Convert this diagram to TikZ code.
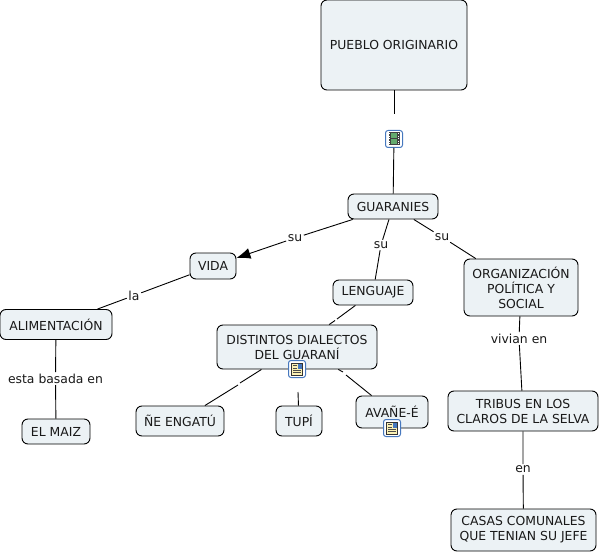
\documentclass[tikz,border=0pt]{standalone}
\usepackage{fontspec}
\setmainfont{DejaVu Sans}
\usetikzlibrary{arrows.meta}
\usetikzlibrary{calc}
\definecolor{boxfill}{RGB}{236,242,245}
\definecolor{inktext}{RGB}{25,25,25}
\definecolor{iconblue}{RGB}{70,120,190}
\definecolor{filmgreen}{RGB}{100,170,110}
\definecolor{notecream}{RGB}{250,240,180}
\tikzset{
  concept/.style={draw=black, fill=boxfill, text=inktext, rounded corners=6pt, line width=0.9pt, align=center, font=\fontsize{12.4}{15}\selectfont, inner sep=0pt},
  linkword/.style={fill=white, text=inktext, inner sep=1.5pt, font=\fontsize{12.4}{14}\selectfont},
  link/.style={line width=0.9pt},
  iconbox/.style={draw=iconblue, fill=white, rounded corners=2.5pt, line width=1pt, minimum size=17pt, inner sep=0pt}
}
\newcommand{\filmicon}[1]{%
  \fill[black!75] ($(#1)+(-5.5,-6.5)$) rectangle ($(#1)+(5.5,6.5)$);
  \fill[filmgreen] ($(#1)+(-3,-5.5)$) rectangle ($(#1)+(3,-0.5)$);
  \fill[filmgreen] ($(#1)+(-3,0.5)$) rectangle ($(#1)+(3,5.5)$);
  \foreach \yy in {-5,-2.5,0,2.5,5} {
    \fill[white] ($(#1)+(-4.8,\yy-0.5)$) rectangle ($(#1)+(-3.8,\yy+0.5)$);
    \fill[white] ($(#1)+(3.8,\yy-0.5)$) rectangle ($(#1)+(4.8,\yy+0.5)$);
  }
}
\newcommand{\noteicon}[1]{%
  \draw[black!80, fill=notecream, line width=0.6pt] ($(#1)+(-5.5,-6)$) rectangle ($(#1)+(5.5,6)$);
  \fill[black!70] ($(#1)+(-4,-4)$) rectangle ($(#1)+(-0.5,-3)$);
  \fill[black!70] ($(#1)+(-4,-1.5)$) rectangle ($(#1)+(-0.5,-0.5)$);
  \fill[black!70] ($(#1)+(-4,1)$) rectangle ($(#1)+(4,2)$);
  \fill[black!70] ($(#1)+(-4,3.2)$) rectangle ($(#1)+(4,4.2)$);
  \fill[iconblue] ($(#1)+(0.5,-5)$) rectangle ($(#1)+(4.5,-0.5)$);
}

\begin{document}
\begin{tikzpicture}[x=1pt,y=-1pt]
\useasboundingbox (0,0) rectangle (599,553);

%---------------------------------------
% Concepts
%---------------------------------------
\node[concept, minimum width=146pt, minimum height=90pt] (pueblo) at (394,45) {PUEBLO ORIGINARIO};
\node[concept, minimum width=90pt, minimum height=25pt] (guaranies) at (393,206.5) {GUARANIES};
\node[concept, minimum width=46pt, minimum height=26pt] (vida) at (213,266) {VIDA};
\node[concept, minimum width=80pt, minimum height=25pt] (lenguaje) at (373,292.5) {LENGUAJE};
\node[concept, minimum width=114pt, minimum height=57pt] (organizacion) at (521,287.5) {ORGANIZACIÓN\\POLÍTICA Y\\SOCIAL};
\node[concept, minimum width=112pt, minimum height=30pt] (alimentacion) at (56,324.5) {ALIMENTACIÓN};
\node[concept, minimum width=160pt, minimum height=44pt] (dialectos) at (297,347) {DISTINTOS DIALECTOS\\DEL GUARANÍ};
\node[concept, minimum width=68pt, minimum height=25pt] (maiz) at (56,431.5) {EL MAIZ};
\node[concept, minimum width=88pt, minimum height=30pt] (engatu) at (180,421) {ÑE ENGATÚ};
\node[concept, minimum width=46pt, minimum height=30pt] (tupi) at (299,421) {TUPÍ};
\node[concept, minimum width=72pt, minimum height=32pt] (avane) at (392,412) {AVAÑE-É};
\node[concept, minimum width=150pt, minimum height=40pt] (tribus) at (523,411) {TRIBUS EN LOS\\CLAROS DE LA SELVA};
\node[concept, minimum width=145pt, minimum height=42pt] (casas) at (523.5,530) {CASAS COMUNALES\\QUE TENIAN SU JEFE};

%---------------------------------------
% Link words
%---------------------------------------
\node[linkword] (su1) at (295,238) {su};
\node[linkword] (su2) at (381,245) {su};
\node[linkword] (su3) at (442,237) {su};
\node[linkword] (la) at (134,295.5) {la};
\node[linkword] (basada) at (55.5,378.5) {esta basada en};
\node[linkword] (vivian) at (519,338.5) {vivian en};
\node[linkword] (en) at (523,469.5) {en};

% Small gaps in the unlabelled links
\coordinate (gapA) at (394,114);
\coordinate (gapB) at (337,319);
\coordinate (gapBb) at (335,320.5);
\coordinate (gapC) at (240,383);
\coordinate (gapD) at (238,385);
\coordinate (gapE) at (298,392);
\coordinate (gapF) at (343,372);
\coordinate (gapG) at (346,375);

%---------------------------------------
% Icons
%---------------------------------------
\node[iconbox] (film) at (394,139) {};
\node[iconbox] (notaA) at (297,369) {};
\node[iconbox] (notaB) at (392,428) {};

%---------------------------------------
% Links
%---------------------------------------
\draw[link] (pueblo) -- (gapA);
\draw[link] (film) -- (guaranies);
\draw[link] (guaranies) -- (su2) -- (lenguaje);
\draw[link] (guaranies) -- (su3) -- (organizacion);
\draw[link] (guaranies) -- (su1);
\draw[link, -{Latex[length=14pt,width=11pt]}] (su1) -- (vida);
\draw[link] (vida) -- (la) -- (alimentacion);
\draw[link] (alimentacion) -- (basada) -- (maiz);
\draw[link] (organizacion) -- (vivian) -- (tribus);
\draw[link] (tribus) -- (en) -- (casas);
\draw[link] (lenguaje) -- (gapB);
\draw[link] (gapBb) -- (dialectos);
\draw[link] (dialectos) -- (gapC);
\draw[link] (gapD) -- (engatu);
\draw[link] (gapE) -- (tupi);
\draw[link] (dialectos) -- (gapF);
\draw[link] (gapG) -- (avane);

\filmicon{film}
\noteicon{notaA}
\noteicon{notaB}

\end{tikzpicture}
\end{document}
